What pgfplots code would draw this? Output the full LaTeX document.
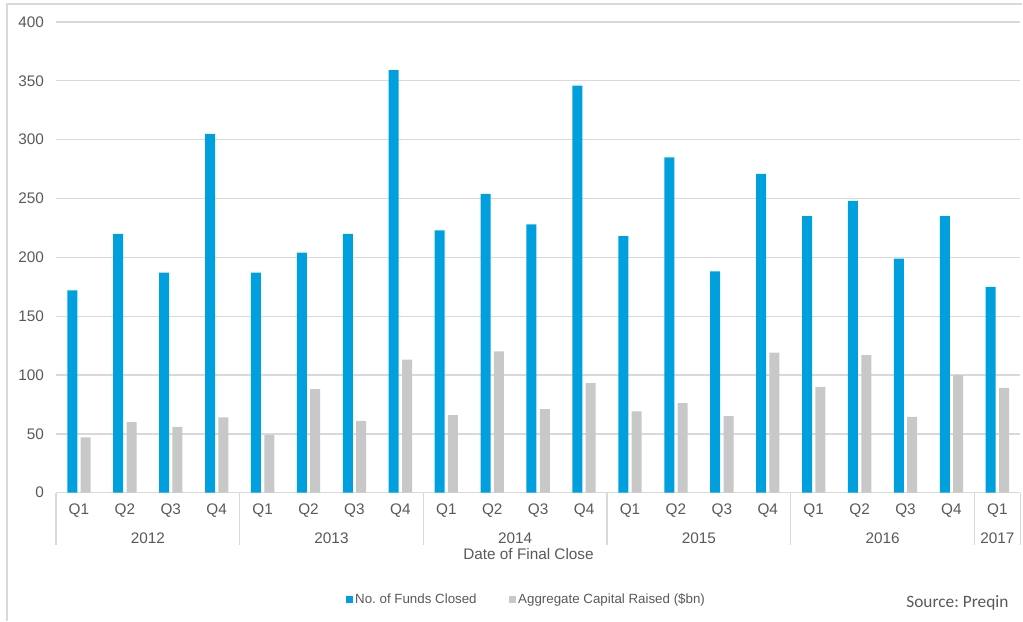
\documentclass[border=0pt]{standalone}
\usepackage{pgfplots}
\pgfplotsset{compat=1.18}
\usepackage{fontspec}
\setmainfont{Liberation Sans}
\newfontfamily\srcfont{Carlito}
\definecolor{fundblue}{HTML}{009FDE}
\definecolor{capgray}{HTML}{C8C8C8}
\definecolor{txtgray}{HTML}{595959}
\definecolor{linegray}{HTML}{D9D9D9}
\frenchspacing
\begin{document}
\begin{tikzpicture}
% canvas 1023 x 621 px at 0.75pt per px
\path (0pt,0pt) rectangle (767.25pt,465.75pt);
\draw[linegray, line width=1pt] (5.25pt,0pt) -- (5.25pt,462.75pt) -- (767.25pt,462.75pt);
\begin{axis}[
    at={(42pt,96pt)}, anchor=south west,
    scale only axis,
    width=723.75pt, height=353.25pt,
    xmin=-0.5, xmax=20.5,
    ymin=0, ymax=400,
    ytick={0,50,...,400},
    xtick={0,...,20},
    xticklabels={Q1,Q2,Q3,Q4,Q1,Q2,Q3,Q4,Q1,Q2,Q3,Q4,Q1,Q2,Q3,Q4,Q1,Q2,Q3,Q4,Q1},
    major tick length=0pt,
    ymajorgrids=true,
    major grid style={linegray, line width=1pt},
    axis line style={draw=none},
    ybar=2.5pt,
    bar width=7.5pt,
    tick label style={font=\fontsize{11.5}{13}\selectfont, text=txtgray},
    /pgf/number format/assume math mode=true,
    yticklabel style={xshift=-5.5pt},
    xticklabel style={yshift=-5pt},
    xlabel={Date of Final Close},
    xlabel style={font=\fontsize{11.5}{13}\selectfont, text=txtgray, at={(axis description cs:0.49,0)}, yshift=-38pt},
    legend columns=2,
    legend style={at={(0.488,-0.227)}, anchor=center, draw=none, fill=none,
        font=\fontsize{10}{12}\selectfont, text=txtgray,
        /tikz/every even column/.append style={column sep=22pt}},
    legend image code/.code={\fill[#1] (0pt,-2.6pt) rectangle (5.2pt,2.6pt);},
    clip=false,
]
\addplot[draw=none, fill=fundblue] coordinates {
    (0,172) (1,220) (2,187) (3,305)
    (4,187) (5,204) (6,220) (7,359)
    (8,223) (9,254) (10,228) (11,346)
    (12,218) (13,285) (14,188) (15,271)
    (16,235) (17,248) (18,199) (19,235)
    (20,175)
};
\addplot[draw=none, fill=capgray] coordinates {
    (0,47) (1,60) (2,56) (3,64)
    (4,49) (5,88) (6,61) (7,113)
    (8,66) (9,120) (10,71) (11,93)
    (12,69) (13,76) (14,65) (15,119)
    (16,90) (17,117) (18,64.5) (19,100)
    (20,89)
};
\legend{No. of Funds Closed, Aggregate Capital Raised (\$bn)}
% year group separators and labels
\draw[linegray, line width=1pt] (axis cs:-0.5,0) -- ++(0pt,-39pt);
\draw[linegray, line width=1pt] (axis cs:3.5,0) -- ++(0pt,-39pt);
\draw[linegray, line width=1pt] (axis cs:7.5,0) -- ++(0pt,-39pt);
\draw[linegray, line width=1pt] (axis cs:11.5,0) -- ++(0pt,-39pt);
\draw[linegray, line width=1pt] (axis cs:15.5,0) -- ++(0pt,-39pt);
\draw[linegray, line width=1pt] (axis cs:19.5,0) -- ++(0pt,-39pt);
\draw[linegray, line width=1pt] (axis cs:20.5,0) -- ++(0pt,-39pt);
\node[font=\fontsize{11.5}{13}\selectfont, text=txtgray, yshift=-34.5pt] at (axis cs:1.5,0) {2012};
\node[font=\fontsize{11.5}{13}\selectfont, text=txtgray, yshift=-34.5pt] at (axis cs:5.5,0) {2013};
\node[font=\fontsize{11.5}{13}\selectfont, text=txtgray, yshift=-34.5pt] at (axis cs:9.5,0) {2014};
\node[font=\fontsize{11.5}{13}\selectfont, text=txtgray, yshift=-34.5pt] at (axis cs:13.5,0) {2015};
\node[font=\fontsize{11.5}{13}\selectfont, text=txtgray, yshift=-34.5pt] at (axis cs:17.5,0) {2016};
\node[font=\fontsize{11.5}{13}\selectfont, text=txtgray, yshift=-34.5pt] at (axis cs:20,0) {2017};
\end{axis}
\node[font=\srcfont\fontsize{13}{15}\selectfont, text=txtgray] at (718.5pt,13.5pt) {Source: Preqin};
\end{tikzpicture}
\end{document}
